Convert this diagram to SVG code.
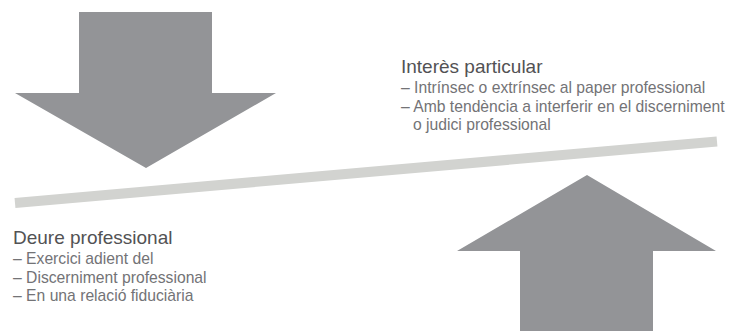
<svg xmlns="http://www.w3.org/2000/svg" width="731" height="331" viewBox="0 0 731 331">
<style>
.arrow{fill:#939497}
.beam{stroke:#d2d3d0;stroke-width:10;fill:none}
.h{font-family:"Liberation Sans",Arial,sans-serif;font-size:19px;fill:#525254}
.l{font-family:"Liberation Sans",Arial,sans-serif;font-size:15.7px;fill:#737376}
</style>
<rect width="731" height="331" fill="#ffffff"/>
<g id="connectors">
<line class="beam" x1="15" y1="203" x2="717" y2="141.5"/>
</g>
<g id="down-arrow">
<polygon class="arrow" points="79,12 212,12 212,93 276,93 146,168 15,93 79,93"/>
</g>
<g id="up-arrow">
<polygon class="arrow" points="587,175 716,251 653,251 653,331 520,331 520,251 457,251"/>
</g>
<g id="interes">
<text class="h" x="401" y="73">Interès particular</text>
<text class="l" x="401" y="93">– Intrínsec o extrínsec al paper professional</text>
<text class="l" x="401" y="112">– Amb tendència a interferir en el discerniment</text>
<text class="l" x="413" y="130">o judici professional</text>
</g>
<g id="deure">
<text class="h" x="13" y="244">Deure professional</text>
<text class="l" x="13" y="264">– Exercici adient del</text>
<text class="l" x="13" y="283">– Discerniment professional</text>
<text class="l" x="13" y="301">– En una relació fiduciària</text>
</g>
</svg>
